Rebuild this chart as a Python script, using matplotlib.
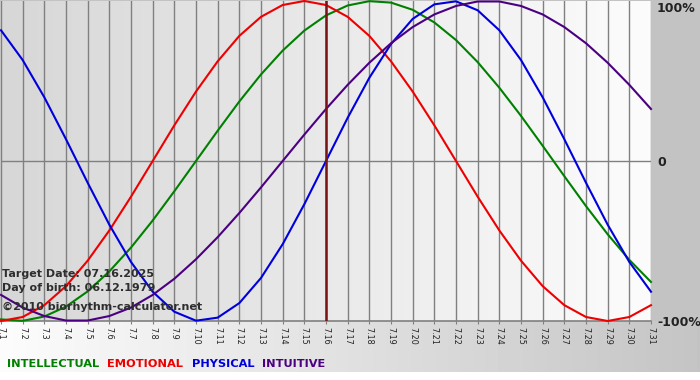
import numpy as np
import matplotlib
matplotlib.use("Agg")
import matplotlib.pyplot as plt

# ---- data ----
days = list(range(1, 32))
day_labels = [f"7.{d}" for d in days]
target_day = 16

physical = [0.817, 0.631, 0.398, 0.136, -0.136, -0.398, -0.631, -0.817, -0.942, -0.998,
            -0.979, -0.888, -0.731, -0.520, -0.270, 0.000, 0.270, 0.520, 0.731, 0.888,
            0.979, 0.998, 0.942, 0.817, 0.631, 0.398, 0.136, -0.136, -0.398, -0.631, -0.817]
emotional = [-1.000, -0.975, -0.901, -0.782, -0.623, -0.434, -0.223, 0.000, 0.223, 0.434,
             0.623, 0.782, 0.901, 0.975, 1.000, 0.975, 0.901, 0.782, 0.623, 0.434,
             0.223, 0.000, -0.223, -0.434, -0.623, -0.782, -0.901, -0.975, -1.000, -0.975, -0.901]
intellectual = [-0.990, -0.999, -0.972, -0.910, -0.815, -0.690, -0.541, -0.372, -0.189, 0.000,
                0.189, 0.372, 0.541, 0.690, 0.815, 0.910, 0.972, 0.999, 0.990, 0.945,
                0.866, 0.756, 0.618, 0.458, 0.282, 0.095, -0.095, -0.282, -0.458, -0.618, -0.756]
intuitive = [-0.837, -0.916, -0.969, -0.997, -0.997, -0.969, -0.916, -0.837, -0.736, -0.614,
             -0.476, -0.325, -0.165, 0.000, 0.165, 0.325, 0.476, 0.614, 0.736, 0.837,
             0.916, 0.969, 0.997, 0.997, 0.969, 0.916, 0.837, 0.736, 0.614, 0.476, 0.325]

series_names = ["INTELLECTUAL", "EMOTIONAL", "PHYSICAL", "INTUITIVE"]
series_values = [intellectual, emotional, physical, intuitive]
series_colors = ["#008000", "#ee0000", "#0000dd", "#4b0082"]

W, H = 700, 380
fig = plt.figure(figsize=(W / 100, H / 100), dpi=100)

# ---- background ----
bg = np.full((H, W), 196.0)
grad = np.linspace(252, 196, W)
bg[321:372, :] = grad[None, :]
bg[372:, :] = 255
ax_bg = fig.add_axes([0, 0, 1, 1])
ax_bg.imshow(bg, cmap="gray", vmin=0, vmax=255, aspect="auto", interpolation="bilinear")
ax_bg.axis("off")

# ---- plot area ----
x0, x1, ytop, ybot = 1, 651, 1, 321
ax = fig.add_axes([x0 / W, (H - ybot) / H, (x1 - x0) / W, (ybot - ytop) / H])
ax.set_xlim(1, 31)
ax.set_ylim(-1, 1)
pg = np.linspace(0.84, 0.985, 200)[None, :]
ax.imshow(pg, cmap="gray", vmin=0, vmax=1, extent=[1, 31, -1, 1], aspect="auto", zorder=0)

for d in days:
    ax.axvline(d, color="#808080", lw=1.0, zorder=1)
ax.axhline(0, color="#808080", lw=1.0, zorder=1)
ax.axhline(-1, color="#808080", lw=1.2, zorder=1, clip_on=False)

ax.axvline(target_day, color="#7a1414", lw=1.8, zorder=4)

for vals, col in zip(series_values, series_colors):
    ax.plot(days, vals, color=col, lw=1.5, zorder=3, clip_on=False,
            solid_joinstyle="round")

for s in ax.spines.values():
    s.set_visible(False)
ax.set_yticks([])
ax.set_xticks(days)
ax.set_xticklabels(day_labels, rotation=-90, fontsize=5.8, color="#222222",
                   va="top", ha="center")
ax.tick_params(axis="x", length=2, color="#808080", pad=2)

# ---- percentage labels ----
def ftext(px, py, s, **kw):
    fig.text(px / W, 1 - py / H, s, **kw)

ftext(657, 8, "100%", fontsize=9, fontweight="bold", color="#222222", va="center", ha="left")
ftext(657, 162, "0", fontsize=9, fontweight="bold", color="#222222", va="center", ha="left")
ftext(657, 322, "-100%", fontsize=9, fontweight="bold", color="#222222", va="center", ha="left")

# ---- info text ----
ftext(2, 277, "Target Date: 07.16.2025", fontsize=8, fontweight="bold",
      color="#2e2e2e", va="baseline", ha="left")
ftext(2, 291, "Day of birth: 06.12.1979", fontsize=8, fontweight="bold",
      color="#2e2e2e", va="baseline", ha="left")
ftext(2, 310, "©2010 biorhythm-calculator.net", fontsize=8, fontweight="bold",
      color="#2e2e2e", va="baseline", ha="left")

# ---- legend ----
lx = [7, 107, 192, 262]
for name, col, px in zip(series_names, series_colors, lx):
    ftext(px, 367, name, fontsize=8.2, fontweight="bold", color=col,
          va="baseline", ha="left")

fig.savefig("out.png", dpi=100)
